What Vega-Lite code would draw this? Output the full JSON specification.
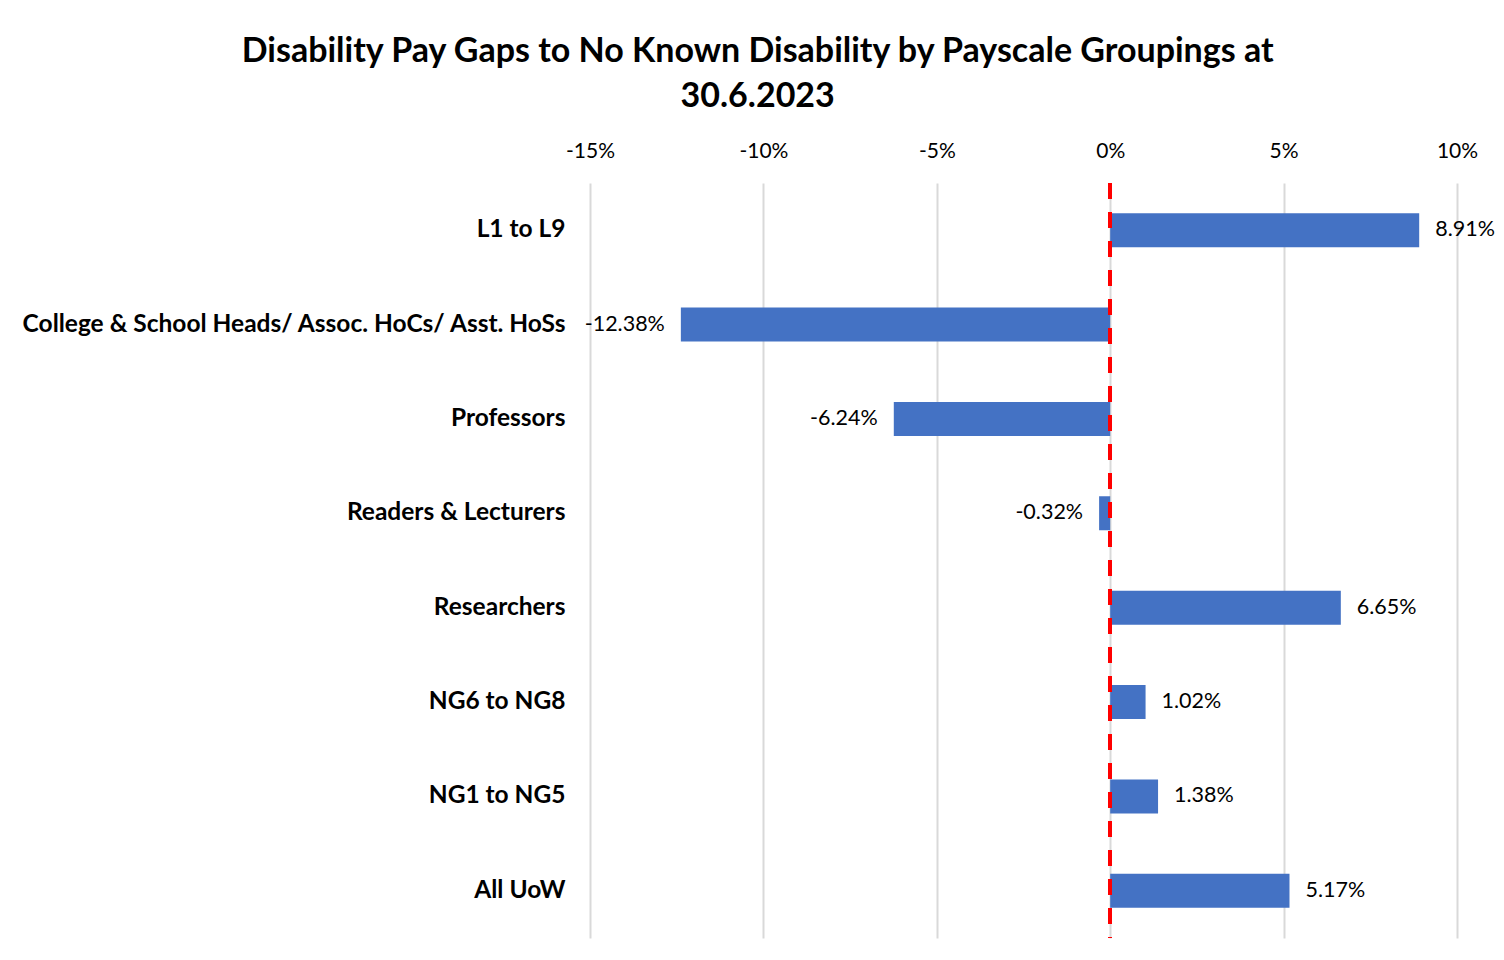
{
  "$schema": "https://vega.github.io/schema/vega-lite/v6.json",
  "autosize": {"type": "none"},
  "width": 867,
  "height": 755,
  "padding": {"left": 590, "top": 183, "right": 47, "bottom": 22},
  "background": "white",
  "config": {
    "locale": {"number": {"decimal": ".", "thousands": ",", "grouping": [3], "currency": ["$", ""], "minus": "-"}},
    "view": {"stroke": null},
    "font": "Lato"
  },
  "title": {
    "text": ["Disability Pay Gaps to No Known Disability by Payscale Groupings at", "30.6.2023"],
    "font": "Lato",
    "fontSize": 34,
    "fontWeight": "bold",
    "color": "#000000",
    "lineHeight": 45,
    "anchor": "middle",
    "frame": "bounds",
    "offset": 26
  },
  "data": {
    "values": [
      {"group": "L1 to L9", "gap": 0.0891},
      {"group": "College & School Heads/ Assoc. HoCs/ Asst. HoSs", "gap": -0.1238},
      {"group": "Professors", "gap": -0.0624},
      {"group": "Readers & Lecturers", "gap": -0.0032},
      {"group": "Researchers", "gap": 0.0665},
      {"group": "NG6 to NG8", "gap": 0.0102},
      {"group": "NG1 to NG5", "gap": 0.0138},
      {"group": "All UoW", "gap": 0.0517}
    ]
  },
  "layer": [
    {
      "mark": {"type": "bar", "color": "#4472C4"},
      "encoding": {
        "y": {
          "field": "group",
          "type": "nominal",
          "sort": null,
          "title": null,
          "scale": {"paddingInner": 0.64, "paddingOuter": 0.32},
          "axis": {
            "domain": false,
            "ticks": false,
            "labelFont": "Lato",
            "labelFontSize": 24.5,
            "labelFontWeight": "bold",
            "labelColor": "#000000",
            "labelPadding": 25,
            "labelLimit": 1000
          }
        },
        "x": {
          "field": "gap",
          "type": "quantitative",
          "title": null,
          "scale": {"domain": [-0.15, 0.1], "nice": false, "zero": false},
          "axis": {
            "orient": "top",
            "values": [-0.15, -0.1, -0.05, 0, 0.05, 0.1],
            "format": ".0%",
            "domain": false,
            "ticks": false,
            "grid": true,
            "gridColor": "#d9d9d9",
            "gridWidth": 2,
            "labelFlush": false,
            "labelOverlap": false,
            "labelFont": "Lato",
            "labelFontSize": 21,
            "labelColor": "#000000",
            "labelPadding": 22
          }
        },
        "x2": {"datum": 0}
      }
    },
    {
      "transform": [{"filter": "datum.gap >= 0"}],
      "mark": {"type": "text", "align": "left", "dx": 16, "font": "Lato", "fontSize": 21.5, "color": "#000000"},
      "encoding": {
        "y": {"field": "group", "type": "nominal", "sort": null},
        "x": {"field": "gap", "type": "quantitative"},
        "text": {"field": "gap", "type": "quantitative", "format": ".2%"}
      }
    },
    {
      "transform": [{"filter": "datum.gap < 0"}],
      "mark": {"type": "text", "align": "right", "dx": -16, "font": "Lato", "fontSize": 21.5, "color": "#000000"},
      "encoding": {
        "y": {"field": "group", "type": "nominal", "sort": null},
        "x": {"field": "gap", "type": "quantitative"},
        "text": {"field": "gap", "type": "quantitative", "format": ".2%"}
      }
    },
    {
      "mark": {"type": "rule", "color": "#ff0000", "strokeWidth": 3.5, "strokeDash": [16, 13]},
      "encoding": {"x": {"datum": 0}}
    }
  ]
}
